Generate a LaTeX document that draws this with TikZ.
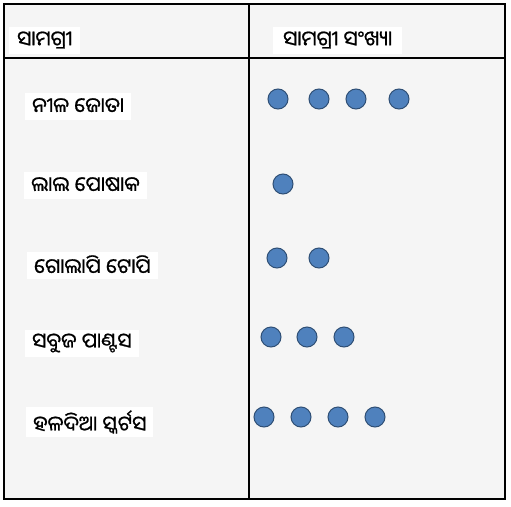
\documentclass[tikz,border=0pt]{standalone}
\usepackage{fontspec}
\newfontfamily\odiafont[Script=Oriya, FakeBold=0.9]{Noto Sans Oriya UI}
\usetikzlibrary{positioning}
\definecolor{panelgray}{HTML}{F5F5F5}
\definecolor{dotblue}{HTML}{4F81BD}
\definecolor{dotedge}{HTML}{2F4F75}

\begin{document}
\begin{tikzpicture}[
        x=1pt, y=-1pt,
        label/.style={
            rectangle,
            fill=white,
            anchor=west,
            inner xsep=7pt,
            minimum height=27pt,
            font=\odiafont\fontsize{20.5}{22}\selectfont
        },
        dot/.style={
            circle,
            draw=dotedge,
            fill=dotblue,
            line width=1pt,
            minimum size=20pt,
            inner sep=0pt
        },
        frame/.style={
            draw,
            line width=1.5pt
        }
    ]
    \useasboundingbox (0,0) rectangle (511,506);

    % Table
    \draw[frame, fill=panelgray] (4,4) rectangle (505,499);
    \draw[frame] (249,4) -- (249,499);
    \draw[frame] (4,58) -- (505,58);

    % Headers
    \node[label, inner xsep=8pt] (item) at (9,40) {ସାମଗ୍ରୀ};
    \node[label, inner xsep=10pt] (count) at (273,40) {ସାମଗ୍ରୀ ସଂଖ୍ୟା};

    % Items
    \node[label] (shoes) at (25,106) {ନୀଳ ଜୋତା};
    \node[label] (dress) at (24,185) {ଲାଲ ପୋଷାକ};
    \node[label] (hat) at (27,265) {ଗୋଲାପି ଟୋପି};
    \node[label] (pants) at (25,343) {ସବୁଜ ପାଣ୍ଟସ};
    \node[label] (skirts) at (26,422) {ହଳଦିଆ ସ୍କର୍ଟସ};

    % Counts
    \node[dot] (shoes1) at (278,99) {};
    \node[dot] (shoes2) at (319,99) {};
    \node[dot] (shoes3) at (356,99) {};
    \node[dot] (shoes4) at (399,99) {};

    \node[dot] (dress1) at (283,184) {};

    \node[dot] (hat1) at (277,258) {};
    \node[dot] (hat2) at (319,258) {};

    \node[dot] (pants1) at (271,337) {};
    \node[dot] (pants2) at (307,337) {};
    \node[dot] (pants3) at (344,337) {};

    \node[dot] (skirts1) at (264,417) {};
    \node[dot] (skirts2) at (301,417) {};
    \node[dot] (skirts3) at (338,417) {};
    \node[dot] (skirts4) at (375,417) {};

\end{tikzpicture}
\end{document}
